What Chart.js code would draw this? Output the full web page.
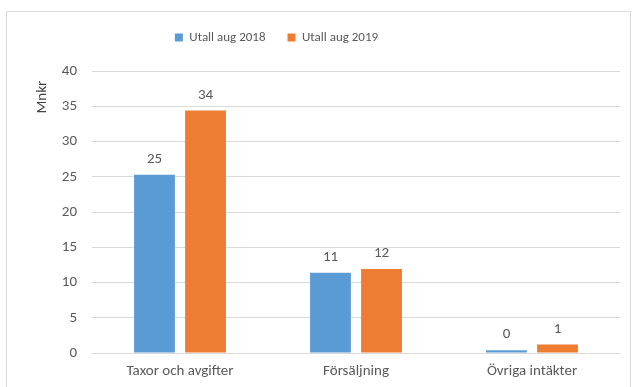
<!DOCTYPE html>
<html>
<head>
<meta charset="utf-8">
<script src="https://cdn.jsdelivr.net/npm/chart.js@4/dist/chart.umd.min.js"></script>
<style>
  body { margin: 0; background: #fff; }
  #frame {
    position: absolute; left: 6px; top: 11px;
    width: 623px; height: 385px;
    border: 1px solid #d9d9d9;
    background: #fff;
  }
</style>
</head>
<body>
<div id="frame"><canvas id="chart"></canvas></div>
<script>
const categories = ["Taxor och avgifter", "Försäljning", "Övriga intäkter"]
const seriesNames = ["Utall aug 2018", "Utall aug 2019"]
const values2018 = [25.3, 11.4, 0.4]
const values2019 = [34.4, 11.9, 1.2]
const yTicks = [0, 5, 10, 15, 20, 25, 30, 35, 40]
const yTitle = "Mnkr"

const textColor = "#595959"
const fontFamily = "Carlito, Lato, sans-serif"

// numbers over the bars, rounded like the original
const barLabels = {
    id: "barLabels",
    afterDatasetsDraw(chart) {
        const ctx = chart.ctx
        ctx.save()
        ctx.fillStyle = textColor
        ctx.font = "15px " + fontFamily
        ctx.textAlign = "center"
        ctx.textBaseline = "bottom"
        chart.data.datasets.forEach((ds, i) => {
            chart.getDatasetMeta(i).data.forEach((bar, j) => {
                ctx.fillText(Math.round(ds.data[j]), bar.x, bar.y - 8)
            })
        })
        ctx.restore()
    }
}

// y axis title sits near the top like in Excel
const axisTitle = {
    id: "axisTitle",
    afterDraw(chart) {
        const ctx = chart.ctx
        const y = chart.scales.y
        ctx.save()
        ctx.fillStyle = "#404040"
        ctx.font = "15px " + fontFamily
        ctx.translate(35, y.getPixelForValue(36.3))
        ctx.rotate(-Math.PI / 2)
        ctx.textAlign = "center"
        ctx.textBaseline = "middle"
        ctx.fillText(yTitle, 0, 0)
        ctx.restore()
    }
}

// legend: fixed height, drawn a bit left of centre like the original
const legendTweak = {
    id: "legendTweak",
    beforeInit(chart) {
        const legend = chart.legend
        const fit = legend.fit
        legend.fit = function () {
            fit.bind(legend)()
            this.height = 52
        }
        const draw = legend.draw
        legend.draw = function () {
            const ctx = chart.ctx
            ctx.save()
            ctx.translate(-37, -10)
            draw.bind(legend)()
            ctx.restore()
        }
    }
}

new Chart(document.getElementById("chart"), {
    type: "bar",
    data: {
        labels: categories,
        datasets: [
            { label: seriesNames[0], data: values2018, backgroundColor: "#5b9bd5" },
            { label: seriesNames[1], data: values2019, backgroundColor: "#ed7d31" }
        ]
    },
    options: {
        responsive: true,
        maintainAspectRatio: false,
        animation: false,
        layout: { padding: { left: 0, right: 10, top: 7, bottom: 16 } },
        datasets: { bar: { categoryPercentage: 0.58, barPercentage: 0.8 } },
        plugins: {
            tooltip: { enabled: false },
            legend: {
                position: "top",
                labels: {
                    color: textColor,
                    font: { family: fontFamily, size: 13 },
                    boxWidth: 8, boxHeight: 8,
                    padding: 22
                }
            }
        },
        scales: {
            x: {
                grid: { display: false },
                border: { display: false },
                ticks: { color: textColor, font: { family: fontFamily, size: 15 }, padding: 1 }
            },
            y: {
                min: 0, max: 40,
                afterBuildTicks: s => { s.ticks = yTicks.map(v => ({ value: v })) },
                afterFit: s => { s.width = 85 },
                grid: { color: "#d9d9d9", drawTicks: false },
                border: { display: false },
                ticks: { color: textColor, font: { family: fontFamily, size: 15 }, padding: 15 }
            }
        }
    },
    plugins: [barLabels, axisTitle, legendTweak]
})
</script>
</body>
</html>
